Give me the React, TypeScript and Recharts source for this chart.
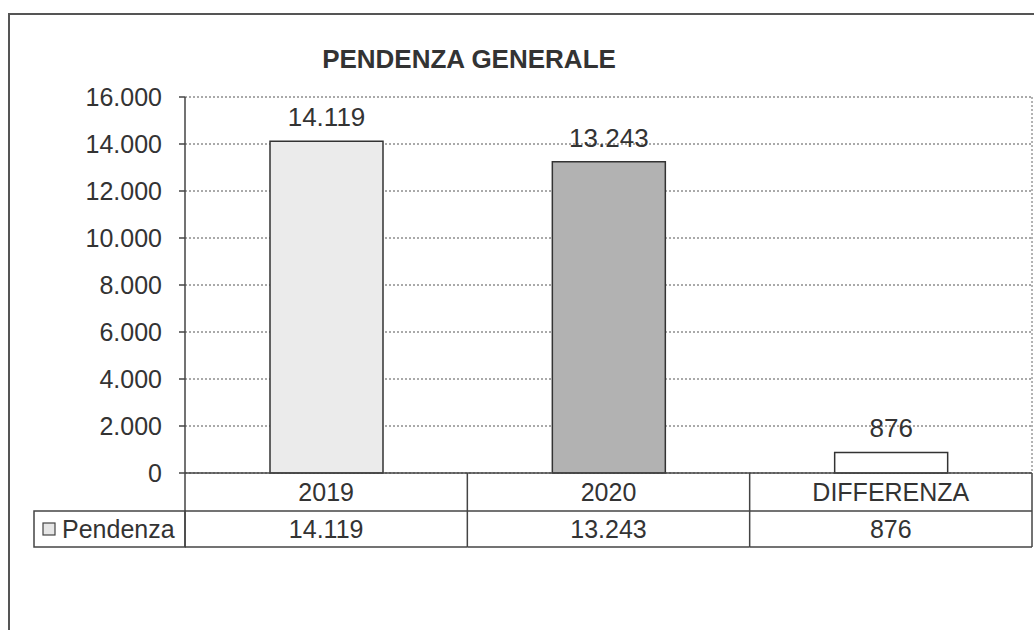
import React from 'react';
import { Bar, BarChart, CartesianGrid, Cell, LabelList, XAxis, YAxis } from 'recharts';

const title = 'PENDENZA GENERALE';
const seriesName = 'Pendenza';
const categories = ['2019', '2020', 'DIFFERENZA'];
const pendenza = [14119, 13243, 876];
const yTicks = [0, 2000, 4000, 6000, 8000, 10000, 12000, 14000, 16000];
const barFills = ['#ebebeb', '#b2b2b2', '#ffffff'];

const data = categories.map((name, i) => ({ name, value: pendenza[i] }));

const CHART_W = 1026;
const CHART_H = 622;
const MARGIN = { top: 89, right: 0, left: 0, bottom: 83 };
const Y_AXIS_W = 177;
const RIGHT_AXIS_W = 2;
const PLOT_W = CHART_W - MARGIN.left - MARGIN.right - Y_AXIS_W - RIGHT_AXIS_W;
const ROW1 = 38;
const ROW2 = 36;
const LEGEND_W = 151;
const FONT = '"Liberation Sans", Arial, sans-serif';
const INK = '#333';
const LINE = '#444';

// italian thousands separator, also for 4-digit numbers
const fmt = (v: number) => String(v).replace(/\B(?=(\d{3})+(?!\d))/g, '.');

// draws the data table under the plot, one column per category
const TableTick = (props: any) => {
  const { x, y, payload } = props;
  const idx = categories.indexOf(payload.value);
  const bw = PLOT_W / categories.length;
  const left = x - bw / 2;
  const right = x + bw / 2;
  const bottom = y + ROW1 + ROW2;
  const textStyle = { fontFamily: FONT, fontSize: 25, fill: INK };
  return (
    <g>
      {idx === 0 && (
        <g>
          <line x1={left} y1={y} x2={left} y2={bottom} stroke={LINE} strokeWidth={1.5} />
          <rect
            x={left - LEGEND_W}
            y={y + ROW1}
            width={LEGEND_W}
            height={ROW2}
            fill="none"
            stroke={LINE}
            strokeWidth={1.5}
          />
          <rect
            x={left - LEGEND_W + 9}
            y={y + ROW1 + 12}
            width={12}
            height={12}
            fill="#e6e6e6"
            stroke={LINE}
            strokeWidth={1.2}
          />
          <text x={left - LEGEND_W + 28} y={y + ROW1 + ROW2 / 2} dy="0.36em" {...textStyle}>
            {seriesName}
          </text>
        </g>
      )}
      <line x1={right} y1={y} x2={right} y2={bottom} stroke={LINE} strokeWidth={1.5} />
      <line x1={left} y1={y + ROW1} x2={right} y2={y + ROW1} stroke={LINE} strokeWidth={1.5} />
      <line x1={left} y1={bottom} x2={right} y2={bottom} stroke={LINE} strokeWidth={1.5} />
      <text x={x} y={y + ROW1 / 2} dy="0.36em" textAnchor="middle" {...textStyle}>
        {payload.value}
      </text>
      <text x={x} y={y + ROW1 + ROW2 / 2} dy="0.36em" textAnchor="middle" {...textStyle}>
        {fmt(pendenza[idx])}
      </text>
    </g>
  );
};

export default function App() {
  // fixed so the page gets no scrollbar
  return (
    <div
      style={{
        position: 'fixed',
        left: 8,
        top: 8,
        width: CHART_W,
        height: CHART_H,
        overflow: 'hidden',
        background: '#fff'
      }}
    >
      <div
        style={{
          position: 'absolute',
          left: 0,
          top: 5,
          width: 1200,
          height: 800,
          borderLeft: '2px solid #555',
          borderTop: '2px solid #555'
        }}
      />
      <div
        style={{
          position: 'absolute',
          left: 261,
          top: 38,
          width: 400,
          textAlign: 'center',
          fontFamily: FONT,
          fontWeight: 'bold',
          fontSize: 26,
          lineHeight: '26px',
          color: INK
        }}
      >
        {title}
      </div>
      <div style={{ position: 'absolute', left: 0, top: 0 }}>
        <BarChart width={CHART_W} height={CHART_H} data={data} margin={MARGIN}>
          <CartesianGrid yAxisId="l" vertical={false} stroke="#555" strokeDasharray="2 2" />
          <XAxis
            dataKey="name"
            height={ROW1 + ROW2}
            axisLine={{ stroke: LINE, strokeWidth: 1.5 }}
            tickLine={false}
            tickSize={0}
            tickMargin={0}
            interval={0}
            tick={<TableTick />}
          />
          <YAxis
            yAxisId="l"
            width={Y_AXIS_W}
            domain={[0, 16000]}
            ticks={yTicks}
            interval={0}
            tickFormatter={fmt}
            tickSize={6}
            tickMargin={17}
            axisLine={{ stroke: LINE, strokeWidth: 1.5 }}
            tickLine={{ stroke: LINE, strokeWidth: 1.5 }}
            tick={{ fontFamily: FONT, fontSize: 25, fill: INK }}
          />
          <YAxis
            yAxisId="r"
            orientation="right"
            width={RIGHT_AXIS_W}
            domain={[0, 16000]}
            ticks={yTicks}
            tick={false}
            tickLine={false}
            axisLine={{ stroke: '#666', strokeDasharray: '2 2' }}
          />
          <Bar
            yAxisId="l"
            dataKey="value"
            barSize={113}
            stroke={INK}
            strokeWidth={1.5}
            isAnimationActive={false}
          >
            {data.map((d, i) => (
              <Cell key={d.name} fill={barFills[i]} />
            ))}
            <LabelList
              dataKey="value"
              position="top"
              offset={15}
              formatter={(v: any) => fmt(Number(v))}
              style={{ fontFamily: FONT, fontSize: 26, fill: INK }}
            />
          </Bar>
        </BarChart>
      </div>
    </div>
  );
}
